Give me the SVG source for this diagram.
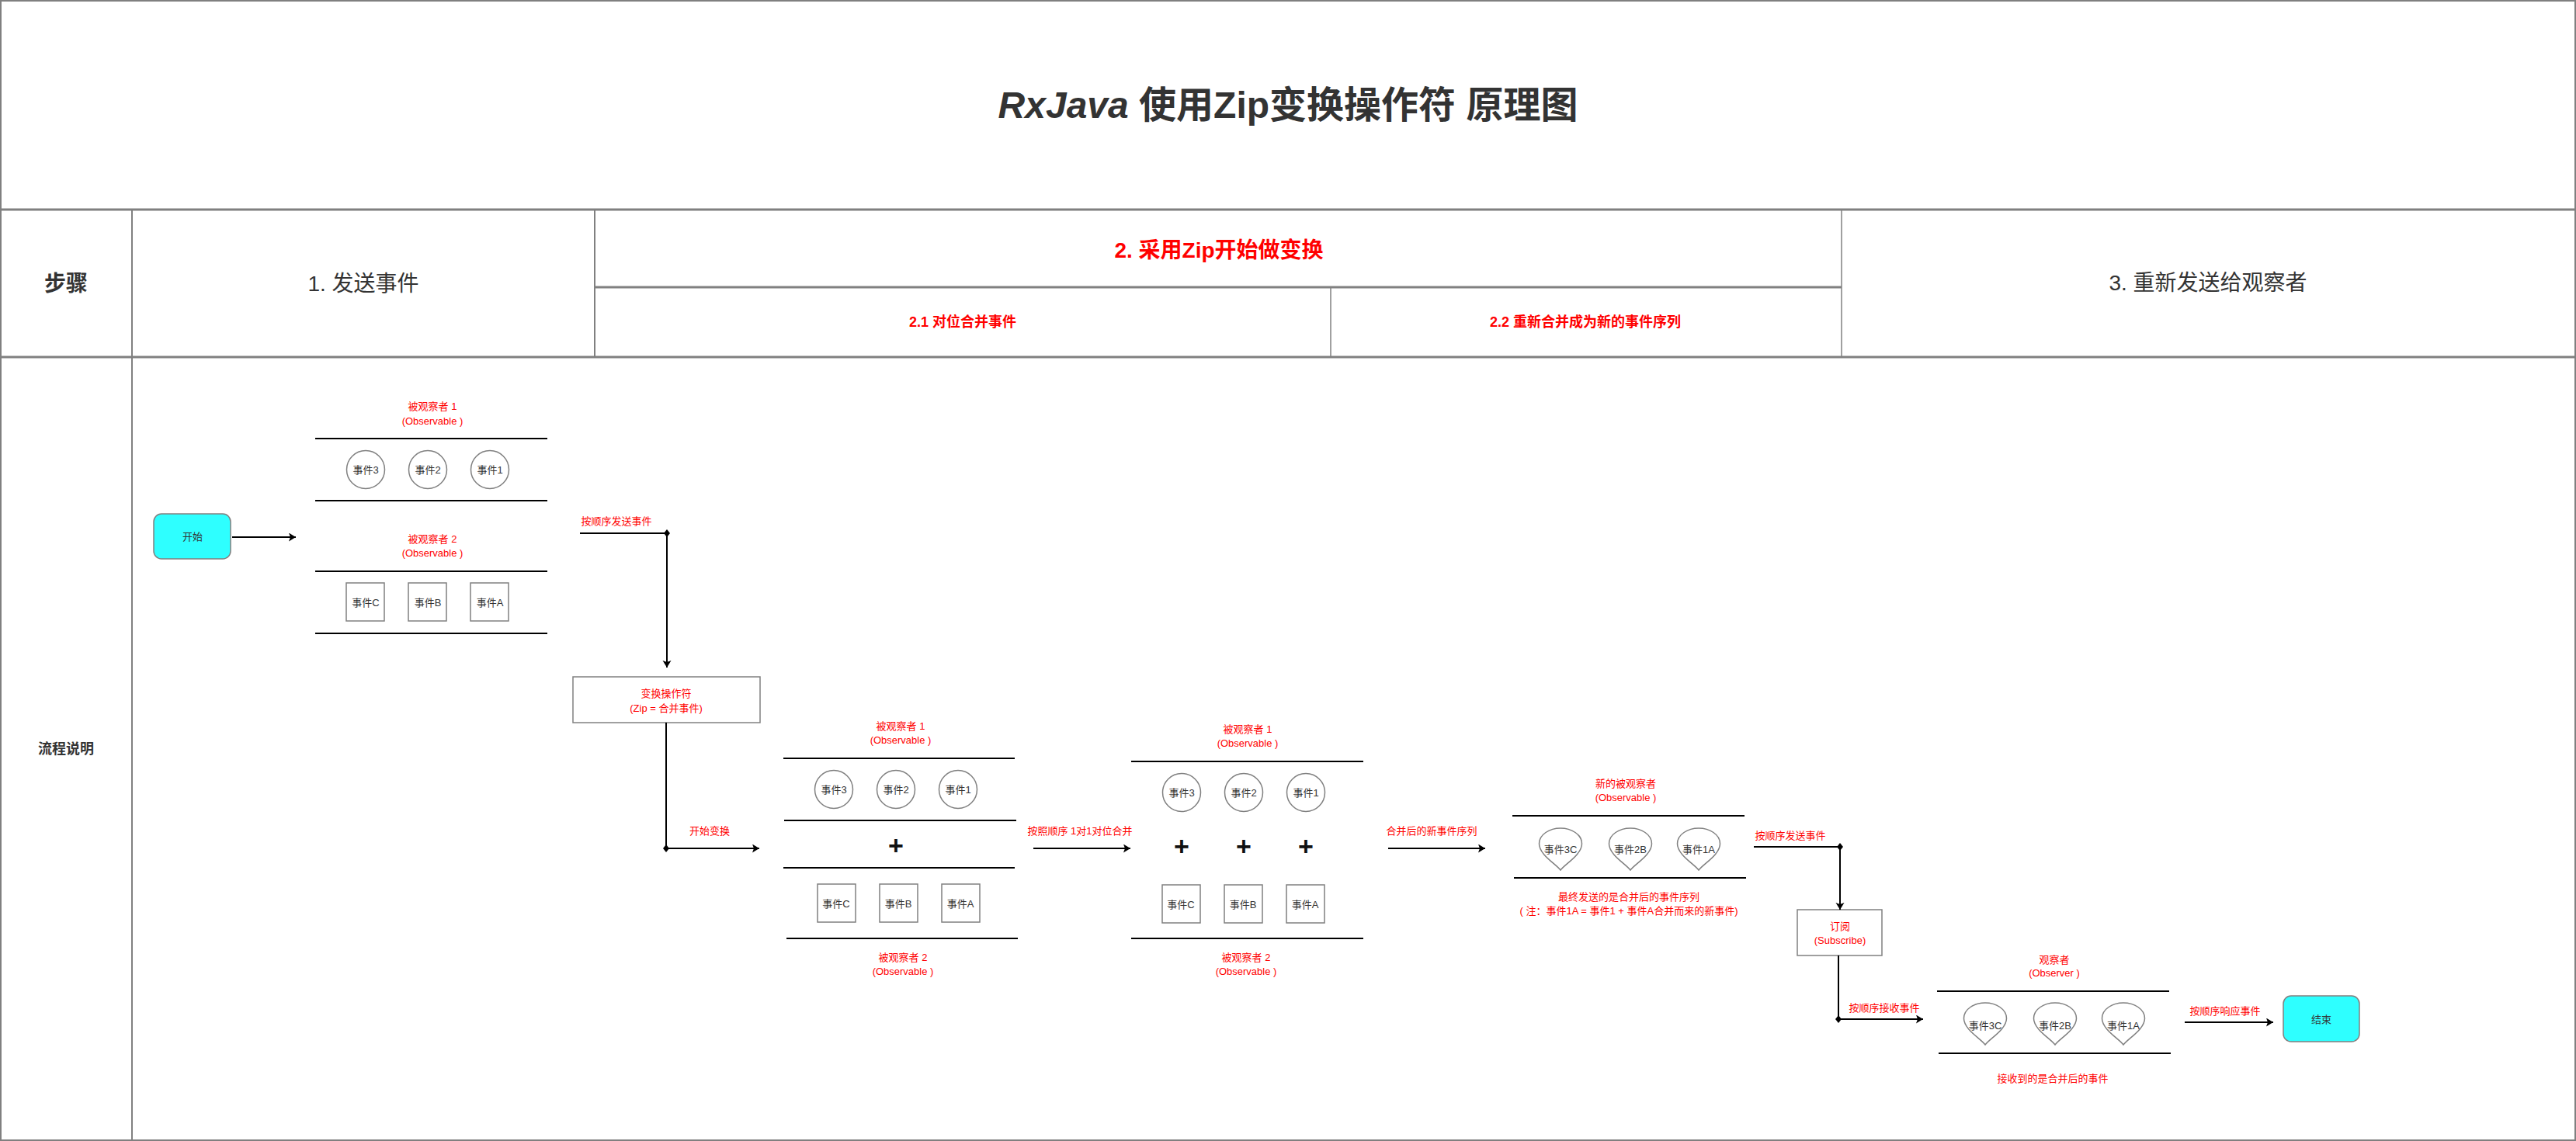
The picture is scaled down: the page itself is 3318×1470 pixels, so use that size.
<svg xmlns="http://www.w3.org/2000/svg" width="3318" height="1470" viewBox="0 0 3318 1470">
<style>
text{font-family:"Liberation Sans","Noto Sans CJK SC",sans-serif;dominant-baseline:central;text-anchor:middle}
.grid{stroke:#808080;fill:none}
.hd{font-size:28px;fill:#333}
.red{fill:#ff0000}
.sm{font-size:13px}
.nt{font-size:13px;fill:#333}
.lane{stroke:#000;stroke-width:2}
.circ{fill:#fff;stroke:#808080;stroke-width:1.5}
.sq{fill:#fff;stroke:#808080;stroke-width:1.5}
.drop{fill:#fff;stroke:#808080;stroke-width:1.5}
.term{fill:#2effff;stroke:#808080;stroke-width:1.5}
.box{fill:#fff;stroke:#808080;stroke-width:1.5}
.plus{font-size:34px;font-weight:bold;fill:#111}
.conn{stroke:#000;stroke-width:2;fill:none}
</style>
<defs>
<marker id="arr" markerUnits="userSpaceOnUse" markerWidth="12" markerHeight="12" refX="9" refY="5.5" orient="auto">
<path d="M0,0 L9,5.5 L0,11 L2,5.5 Z" fill="#000"/>
</marker>
<path id="dropShape" d="M0,54 C-6,46 -27.5,34 -27.5,20 C-27.5,8 -14,0 0,0 C14,0 27.5,8 27.5,20 C27.5,34 6,46 0,54 Z"/>
</defs>
<rect width="3318" height="1470" fill="#fff"/>
<g id="table">
<rect x="1" y="1" width="3316" height="1468" class="grid" stroke-width="2"/>
<line x1="0" y1="270" x2="3318" y2="270" class="grid" stroke-width="3"/>
<line x1="0" y1="460" x2="3318" y2="460" class="grid" stroke-width="3"/>
<line x1="766" y1="370" x2="2372" y2="370" class="grid" stroke-width="3"/>
<line x1="170" y1="270" x2="170" y2="1470" class="grid" stroke-width="2"/>
<line x1="766" y1="270" x2="766" y2="460" class="grid" stroke-width="2"/>
<line x1="2372" y1="270" x2="2372" y2="460" class="grid" stroke-width="1.5"/>
<line x1="1714" y1="370" x2="1714" y2="460" class="grid" stroke-width="1.5"/>
<text x="1659" y="135" font-size="48" font-weight="bold" fill="#333"><tspan font-style="italic">RxJava</tspan> 使用Zip变换操作符 原理图</text>
<text x="85" y="365" class="hd" font-weight="bold">步骤</text>
<text x="468" y="365" class="hd">1. 发送事件</text>
<text x="1570" y="322" class="hd red" font-weight="bold">2. 采用Zip开始做变换</text>
<text x="1240" y="415" font-size="18" font-weight="bold" class="red">2.1 对位合并事件</text>
<text x="2042" y="415" font-size="18" font-weight="bold" class="red">2.2 重新合并成为新的事件序列</text>
<text x="2844" y="364" class="hd">3. 重新发送给观察者</text>
<text x="85" y="965" font-size="18" font-weight="bold" fill="#333">流程说明</text>
</g>
<g id="start">
<rect x="198" y="662" width="99" height="58" rx="10" class="term"/>
<text x="248" y="691" class="nt" font-size="14">开始</text>
</g>
<g id="observable1">
<text x="557" y="523" class="sm red">被观察者 1</text>
<text x="557" y="542" class="sm red">(Observable )</text>
<line x1="406" y1="565" x2="705" y2="565" class="lane"/>
<line x1="406" y1="645" x2="705" y2="645" class="lane"/>
<circle cx="471" cy="605" r="24.5" class="circ"/><text x="471" y="605" class="nt">事件3</text>
<circle cx="551" cy="605" r="24.5" class="circ"/><text x="551" y="605" class="nt">事件2</text>
<circle cx="631" cy="605" r="24.5" class="circ"/><text x="631" y="605" class="nt">事件1</text>
</g>
<g id="observable2">
<text x="557" y="694" class="sm red">被观察者 2</text>
<text x="557" y="712" class="sm red">(Observable )</text>
<line x1="406" y1="736" x2="705" y2="736" class="lane"/>
<line x1="406" y1="816" x2="705" y2="816" class="lane"/>
<rect x="446" y="751" width="49" height="49" class="sq"/><text x="471" y="776" class="nt">事件C</text>
<rect x="526" y="751" width="49" height="49" class="sq"/><text x="551" y="776" class="nt">事件B</text>
<rect x="606" y="751" width="49" height="49" class="sq"/><text x="631" y="776" class="nt">事件A</text>
</g>
<g id="zipOperator">
<rect x="738" y="872" width="241" height="59" class="box"/>
<text x="858" y="893" class="sm red">变换操作符</text>
<text x="858" y="912" class="sm red">(Zip = 合并事件)</text>
</g>
<g id="zipInput">
<text x="1160" y="935" class="sm red">被观察者 1</text>
<text x="1160" y="953" class="sm red">(Observable )</text>
<line x1="1009" y1="977" x2="1307" y2="977" class="lane"/>
<circle cx="1074" cy="1017" r="24.5" class="circ"/><text x="1074" y="1017" class="nt">事件3</text>
<circle cx="1154" cy="1017" r="24.5" class="circ"/><text x="1154" y="1017" class="nt">事件2</text>
<circle cx="1234" cy="1017" r="24.5" class="circ"/><text x="1234" y="1017" class="nt">事件1</text>
<line x1="1010" y1="1057" x2="1309" y2="1057" class="lane"/>
<text x="1154" y="1089" class="plus">+</text>
<line x1="1009" y1="1118" x2="1307" y2="1118" class="lane"/>
<rect x="1053" y="1139" width="49" height="49" class="sq"/><text x="1077" y="1164" class="nt">事件C</text>
<rect x="1133" y="1139" width="49" height="49" class="sq"/><text x="1157" y="1164" class="nt">事件B</text>
<rect x="1213" y="1139" width="49" height="49" class="sq"/><text x="1237" y="1164" class="nt">事件A</text>
<line x1="1013" y1="1209" x2="1311" y2="1209" class="lane"/>
<text x="1163" y="1233" class="sm red">被观察者 2</text>
<text x="1163" y="1251" class="sm red">(Observable )</text>
</g>
<g id="zipPairs">
<text x="1607" y="939" class="sm red">被观察者 1</text>
<text x="1607" y="957" class="sm red">(Observable )</text>
<line x1="1457" y1="981" x2="1756" y2="981" class="lane"/>
<circle cx="1522" cy="1021" r="24.5" class="circ"/><text x="1522" y="1021" class="nt">事件3</text>
<circle cx="1602" cy="1021" r="24.5" class="circ"/><text x="1602" y="1021" class="nt">事件2</text>
<circle cx="1682" cy="1021" r="24.5" class="circ"/><text x="1682" y="1021" class="nt">事件1</text>
<text x="1522" y="1090" class="plus">+</text>
<text x="1602" y="1090" class="plus">+</text>
<text x="1682" y="1090" class="plus">+</text>
<rect x="1497" y="1140" width="49" height="49" class="sq"/><text x="1521" y="1165" class="nt">事件C</text>
<rect x="1577" y="1140" width="49" height="49" class="sq"/><text x="1601" y="1165" class="nt">事件B</text>
<rect x="1657" y="1140" width="49" height="49" class="sq"/><text x="1681" y="1165" class="nt">事件A</text>
<line x1="1457" y1="1209" x2="1756" y2="1209" class="lane"/>
<text x="1605" y="1233" class="sm red">被观察者 2</text>
<text x="1605" y="1251" class="sm red">(Observable )</text>
</g>
<g id="newObservable">
<text x="2094" y="1009" class="sm red">新的被观察者</text>
<text x="2094" y="1027" class="sm red">(Observable )</text>
<line x1="1948" y1="1051" x2="2247" y2="1051" class="lane"/>
<use href="#dropShape" x="2010" y="1067" class="drop"/><text x="2010" y="1094" class="nt">事件3C</text>
<use href="#dropShape" x="2100" y="1067" class="drop"/><text x="2100" y="1094" class="nt">事件2B</text>
<use href="#dropShape" x="2188" y="1067" class="drop"/><text x="2188" y="1094" class="nt">事件1A</text>
<line x1="1950" y1="1131" x2="2249" y2="1131" class="lane"/>
<text x="2098" y="1155" class="sm red">最终发送的是合并后的事件序列</text>
<text x="2098" y="1173" class="sm red">( 注：事件1A = 事件1 + 事件A合并而来的新事件)</text>
</g>
<g id="subscribe">
<rect x="2315" y="1172" width="109" height="59" class="box"/>
<text x="2370" y="1193" class="sm red">订阅</text>
<text x="2370" y="1211" class="sm red">(Subscribe)</text>
</g>
<g id="observer">
<text x="2646" y="1236" class="sm red">观察者</text>
<text x="2646" y="1253" class="sm red">(Observer )</text>
<line x1="2495" y1="1277" x2="2794" y2="1277" class="lane"/>
<use href="#dropShape" x="2557" y="1292" class="drop"/><text x="2557" y="1321" class="nt">事件3C</text>
<use href="#dropShape" x="2647" y="1292" class="drop"/><text x="2647" y="1321" class="nt">事件2B</text>
<use href="#dropShape" x="2735" y="1292" class="drop"/><text x="2735" y="1321" class="nt">事件1A</text>
<line x1="2497" y1="1357" x2="2796" y2="1357" class="lane"/>
<text x="2644" y="1389" class="sm red">接收到的是合并后的事件</text>
</g>
<g id="end">
<rect x="2941" y="1283" width="98" height="59" rx="10" class="term"/>
<text x="2990" y="1313" class="nt" font-size="14">结束</text>
</g>
<g id="connectors">
<line x1="299" y1="692" x2="381" y2="692" class="conn" marker-end="url(#arr)"/>
<polyline points="747,687 859,687 859,860" class="conn" marker-end="url(#arr)"/>
<polygon points="859,682 863,687 859,692 855,687" fill="#000"/>
<text x="794" y="671" class="sm red">按顺序发送事件</text>
<polyline points="858,931 858,1093 978,1093" class="conn" marker-end="url(#arr)"/>
<polygon points="858,1088 862,1093 858,1098 854,1093" fill="#000"/>
<text x="914" y="1070" class="sm red">开始变换</text>
<line x1="1331" y1="1093" x2="1456" y2="1093" class="conn" marker-end="url(#arr)"/>
<text x="1391" y="1070" class="sm red">按照顺序 1对1对位合并</text>
<line x1="1788" y1="1093" x2="1913" y2="1093" class="conn" marker-end="url(#arr)"/>
<text x="1844" y="1070" class="sm red">合并后的新事件序列</text>
<polyline points="2259,1091 2370,1091 2370,1172" class="conn" marker-end="url(#arr)"/>
<polygon points="2370,1086 2374,1091 2370,1096 2366,1091" fill="#000"/>
<text x="2306" y="1076" class="sm red">按顺序发送事件</text>
<polyline points="2368,1231 2368,1313 2477,1313" class="conn" marker-end="url(#arr)"/>
<polygon points="2368,1308 2372,1313 2368,1318 2364,1313" fill="#000"/>
<text x="2427" y="1298" class="sm red">按顺序接收事件</text>
<line x1="2814" y1="1317" x2="2928" y2="1317" class="conn" marker-end="url(#arr)"/>
<text x="2866" y="1302" class="sm red">按顺序响应事件</text>
</g>
</svg>
